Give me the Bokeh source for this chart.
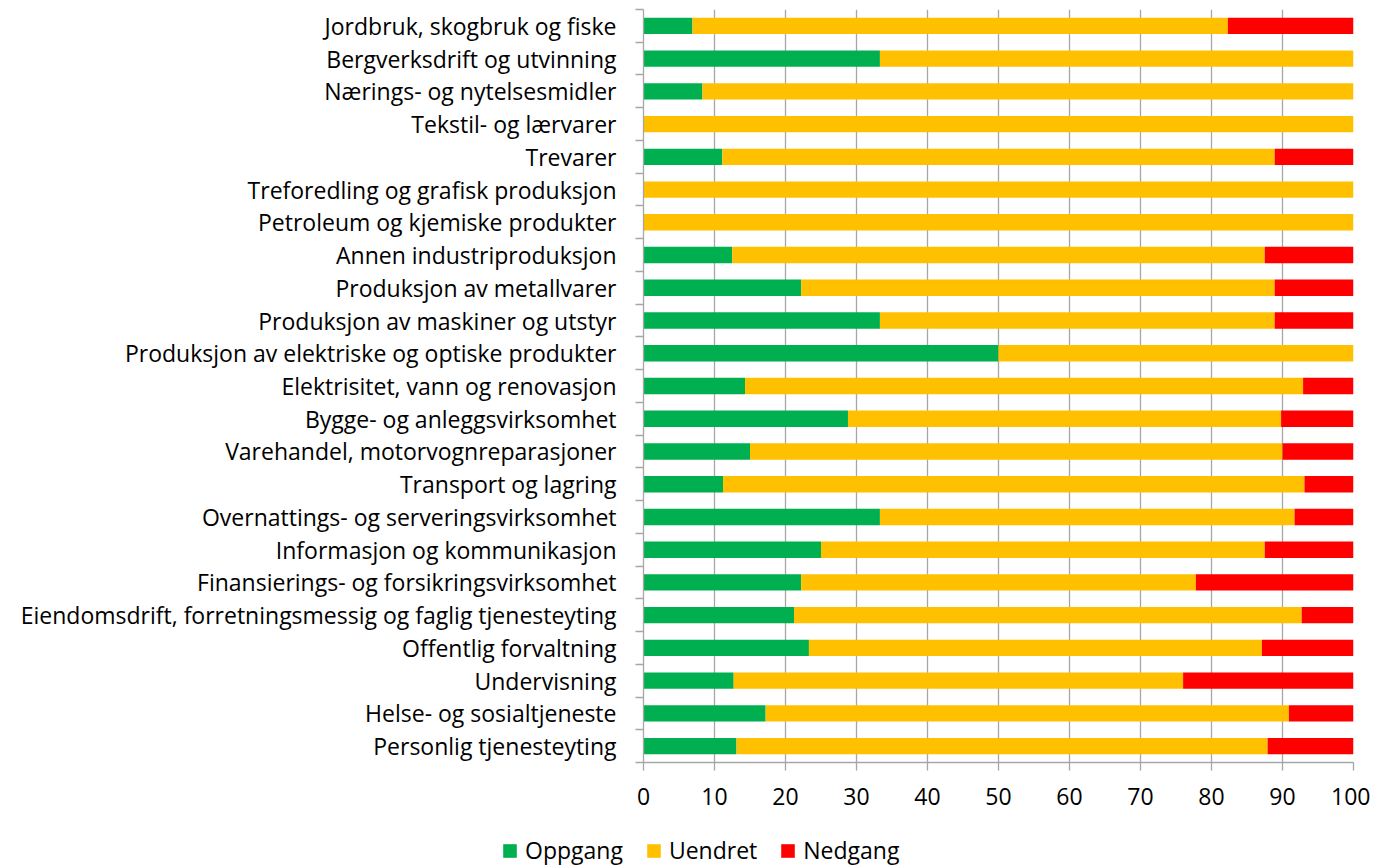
from bokeh.plotting import figure
from bokeh.layouts import column, row
from bokeh.models import FixedTicker, Legend, LegendItem, ColumnDataSource, Range1d
from bokeh.embed import file_html
from bokeh.resources import INLINE

categories = [
    "Jordbruk, skogbruk og fiske",
    "Bergverksdrift og utvinning",
    "Nærings- og nytelsesmidler",
    "Tekstil- og lærvarer",
    "Trevarer",
    "Treforedling og grafisk produksjon",
    "Petroleum og kjemiske produkter",
    "Annen industriproduksjon",
    "Produksjon av metallvarer",
    "Produksjon av maskiner og utstyr",
    "Produksjon av elektriske og optiske produkter",
    "Elektrisitet, vann og renovasjon",
    "Bygge- og anleggsvirksomhet",
    "Varehandel, motorvognreparasjoner",
    "Transport og lagring",
    "Overnattings- og serveringsvirksomhet",
    "Informasjon og kommunikasjon",
    "Finansierings- og forsikringsvirksomhet",
    "Eiendomsdrift, forretningsmessig og faglig tjenesteyting",
    "Offentlig forvaltning",
    "Undervisning",
    "Helse- og sosialtjeneste",
    "Personlig tjenesteyting",
]
oppgang = [6.9, 33.3, 8.3, 0, 11.1, 0, 0, 12.5, 22.2, 33.3, 50, 14.3, 28.8, 15.0, 11.2, 33.3, 25, 22.2, 21.2, 23.3, 12.7, 17.2, 13.1]
uendret = [75.4, 66.7, 91.7, 100, 77.8, 100, 100, 75, 66.7, 55.6, 50, 78.6, 61.0, 75.0, 81.9, 58.4, 62.5, 55.6, 71.5, 63.8, 63.3, 73.7, 74.8]
nedgang = [17.7, 0, 0, 0, 11.1, 0, 0, 12.5, 11.1, 11.1, 0, 7.1, 10.2, 10.0, 6.9, 8.3, 12.5, 22.2, 7.3, 12.9, 24.0, 9.1, 12.1]
series_names = ["Oppgang", "Uendret", "Nedgang"]
colors = ["#00B050", "#FFC000", "#FF0000"]
x_ticks = list(range(0, 101, 10))

n = len(categories)
ypos = [n - 1 - i for i in range(n)]
src = ColumnDataSource(dict(y=ypos, Oppgang=oppgang, Uendret=uendret, Nedgang=nedgang))

FONT = "Open Sans"
FS = "23px"
H = 826
p = figure(width=1370, height=H, output_backend="svg", toolbar_location=None,
           x_range=Range1d(0, 100), y_range=Range1d(-0.5, n - 0.5),
           min_border_left=643, min_border_right=17, min_border_top=9, min_border_bottom=H - 762)
p.outline_line_color = None

renderers = p.hbar_stack(series_names, y="y", height=0.5, color=colors, source=src, line_color=None)

p.xaxis.ticker = FixedTicker(ticks=x_ticks)
p.xaxis.major_label_text_font = FONT
p.xaxis.major_label_text_font_size = FS
p.xaxis.major_label_text_color = "#000000"
p.xaxis.major_label_standoff = 17
p.xaxis.axis_line_color = "#A6A6A6"
p.xaxis.axis_line_width = 1.3
p.xaxis.major_tick_line_color = "#A6A6A6"
p.xaxis.major_tick_line_width = 1.3
p.xaxis.major_tick_in = 0
p.xaxis.major_tick_out = 8
p.xaxis.minor_tick_line_color = None

p.yaxis.ticker = FixedTicker(ticks=ypos, minor_ticks=[v + 0.5 for v in range(-1, n)])
p.yaxis.major_label_overrides = {y: c for y, c in zip(ypos, categories)}
p.yaxis.major_label_text_font = FONT
p.yaxis.major_label_text_font_size = FS
p.yaxis.major_label_text_color = "#000000"
p.yaxis.major_label_standoff = 19
p.yaxis.major_tick_line_color = None
p.yaxis.minor_tick_line_color = "#A6A6A6"
p.yaxis.minor_tick_line_width = 1.3
p.yaxis.minor_tick_in = 0
p.yaxis.minor_tick_out = 8
p.yaxis.axis_line_color = "#A6A6A6"
p.yaxis.axis_line_width = 1.3

p.xgrid.ticker = FixedTicker(ticks=x_ticks)
p.xgrid.grid_line_color = "#A6A6A6"
p.xgrid.grid_line_width = 1.3
p.ygrid.grid_line_color = None

# legend strip: same stacked series with zero bar height (nothing drawn); only the legend shows
p2 = figure(width=1370, height=40, output_backend="svg", toolbar_location=None,
            x_range=Range1d(-1000, -999), y_range=Range1d(-1000, -999),
            min_border_left=0, min_border_right=0, min_border_top=0, min_border_bottom=0)
p2.axis.visible = False
p2.grid.visible = False
p2.outline_line_color = None
legend_renderers = p2.hbar_stack(series_names, y="y", height=0, color=colors, source=src, line_color=None)
legend = Legend(items=[LegendItem(label=nm, renderers=[r]) for nm, r in zip(series_names, legend_renderers)],
                orientation="horizontal", location=(501, 0),
                label_text_font=FONT, label_text_font_size=FS, label_text_color="#000000",
                glyph_width=17, glyph_height=17, spacing=22, label_standoff=7,
                border_line_color=None, background_fill_alpha=0, padding=2, margin=0)
p2.add_layout(legend, "center")

layout = column(p, row(p2), spacing=0)
open("out.html", "w").write(file_html(layout, INLINE))
